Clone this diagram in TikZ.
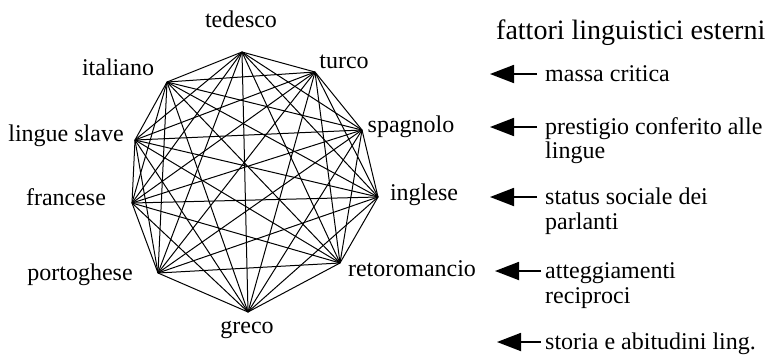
\documentclass[tikz,border=0pt]{standalone}
\usepackage{fontspec}
\setmainfont{Liberation Serif}
\usetikzlibrary{arrows.meta}
\begin{document}
\begin{tikzpicture}[x=1pt,y=-1pt,
  lang/.style={font=\fontsize{24}{26}\selectfont, inner sep=0pt, anchor=base},
  fact/.style={font=\fontsize{24}{26}\selectfont, inner sep=0pt, anchor=base west},
  title/.style={font=\fontsize{28}{30}\selectfont, inner sep=0pt, anchor=base west},
  edge/.style={line width=1pt, black},
  pointer/.style={line width=1.8pt, -{Triangle[length=24pt,width=18pt]}}]
\useasboundingbox (0,0) rectangle (772,360);
% graph vertices
\coordinate (v1) at (242,52);   % tedesco
\coordinate (v2) at (315,72);   % turco
\coordinate (v3) at (362,130);  % spagnolo
\coordinate (v4) at (378,197);  % inglese
\coordinate (v5) at (340,263);  % retoromancio
\coordinate (v6) at (248,312);  % greco
\coordinate (v7) at (158,273);  % portoghese
\coordinate (v8) at (132,203);  % francese
\coordinate (v9) at (135,140);  % lingue slave
\coordinate (v10) at (167,82);  % italiano
\foreach \i [evaluate=\i as \k using int(\i+1)] in {1,...,9}{
  \foreach \j in {\k,...,10}{
    \draw[edge] (v\i) -- (v\j);
  }
}
% language labels
\node[lang] (l1) at (241,27) {tedesco};
\node[lang] (l2) at (344,68) {turco};
\node[lang] (l3) at (411,132) {spagnolo};
\node[lang] (l4) at (424,200) {inglese};
\node[lang] (l5) at (412,276) {retoromancio};
\node[lang] (l6) at (247,333) {greco};
\node[lang] (l7) at (80,280) {portoghese};
\node[lang] (l8) at (66,205) {francese};
\node[lang] (l9) at (66,141) {lingue slave};
\node[lang] (l10) at (118,75) {italiano};
% factors
\node[title] (t) at (496,39) {fattori linguistici esterni};
\node[fact] (f1) at (545,81) {massa critica};
\node[fact] (f2) at (545,134) {prestigio conferito alle};
\node[fact] (f2b) at (545,158) {lingue};
\node[fact] (f3) at (545,204) {status sociale dei};
\node[fact] (f3b) at (545,229) {parlanti};
\node[fact] (f4) at (545,278) {atteggiamenti};
\node[fact] (f4b) at (545,303) {reciproci};
\node[fact] (f5) at (545,349) {storia e abitudini ling.};
\coordinate (a1) at (490,74);  \coordinate (s1) at (537,74);
\coordinate (a2) at (490,127); \coordinate (s2) at (537,127);
\coordinate (a3) at (490,197); \coordinate (s3) at (537,197);
\coordinate (a4) at (495,271); \coordinate (s4) at (541,271);
\coordinate (a5) at (497,342); \coordinate (s5) at (541,342);
\foreach \n in {1,...,5}{\draw[pointer] (s\n) -- (a\n);}
\end{tikzpicture}
\end{document}
